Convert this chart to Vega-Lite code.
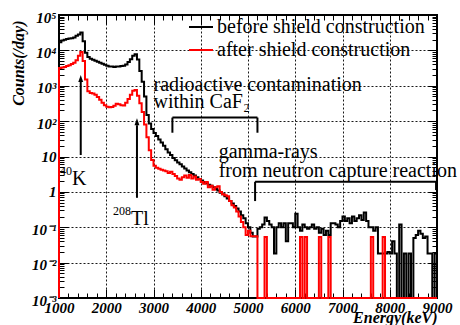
{
  "$schema": "https://vega.github.io/schema/vega-lite/v6.json",
  "width": 378,
  "height": 283,
  "autosize": {"type": "none"},
  "padding": {"left": 59, "top": 15, "right": 23, "bottom": 27},
  "background": "white",
  "config": {
    "view": {"stroke": "black", "strokeWidth": 2},
    "font": "Liberation Serif",
    "axis": {"domain": false, "tickColor": "black", "tickWidth": 1, "labelColor": "black", "titleColor": "black"}
  },
  "datasets": {
    "spectrum": [
      {"i": 0, "e": 1000, "before": 0.001, "after": 0.001},
      {"i": 1, "e": 1000, "before": 17000, "after": 3200},
      {"i": 2, "e": 1050, "before": 19000, "after": 3300},
      {"i": 3, "e": 1100, "before": 20000, "after": 3400},
      {"i": 4, "e": 1150, "before": 21000, "after": 3600},
      {"i": 5, "e": 1200, "before": 21500, "after": 3800},
      {"i": 6, "e": 1250, "before": 22000, "after": 4100},
      {"i": 7, "e": 1300, "before": 23000, "after": 4500},
      {"i": 8, "e": 1350, "before": 26000, "after": 5300},
      {"i": 9, "e": 1400, "before": 28000, "after": 7000},
      {"i": 10, "e": 1450, "before": 32000, "after": 9000},
      {"i": 11, "e": 1500, "before": 18000, "after": 5000},
      {"i": 12, "e": 1550, "before": 8500, "after": 1500},
      {"i": 13, "e": 1600, "before": 6500, "after": 700},
      {"i": 14, "e": 1650, "before": 5800, "after": 620},
      {"i": 15, "e": 1700, "before": 5400, "after": 600},
      {"i": 16, "e": 1750, "before": 5100, "after": 560},
      {"i": 17, "e": 1800, "before": 4800, "after": 480},
      {"i": 18, "e": 1850, "before": 4500, "after": 400},
      {"i": 19, "e": 1900, "before": 4200, "after": 330},
      {"i": 20, "e": 1950, "before": 3900, "after": 280},
      {"i": 21, "e": 2000, "before": 3700, "after": 255},
      {"i": 22, "e": 2050, "before": 3500, "after": 245},
      {"i": 23, "e": 2100, "before": 3500, "after": 250},
      {"i": 24, "e": 2150, "before": 3400, "after": 270},
      {"i": 25, "e": 2200, "before": 3500, "after": 310},
      {"i": 26, "e": 2250, "before": 3500, "after": 300},
      {"i": 27, "e": 2300, "before": 3600, "after": 280},
      {"i": 28, "e": 2350, "before": 3700, "after": 275},
      {"i": 29, "e": 2400, "before": 4000, "after": 330},
      {"i": 30, "e": 2450, "before": 4700, "after": 420},
      {"i": 31, "e": 2500, "before": 5600, "after": 560},
      {"i": 32, "e": 2550, "before": 7000, "after": 720},
      {"i": 33, "e": 2600, "before": 7800, "after": 760},
      {"i": 34, "e": 2650, "before": 5500, "after": 520},
      {"i": 35, "e": 2700, "before": 2600, "after": 320},
      {"i": 36, "e": 2750, "before": 1300, "after": 180},
      {"i": 37, "e": 2800, "before": 500, "after": 80},
      {"i": 38, "e": 2850, "before": 150, "after": 35},
      {"i": 39, "e": 2900, "before": 85, "after": 15},
      {"i": 40, "e": 2950, "before": 60, "after": 8},
      {"i": 41, "e": 3000, "before": 46, "after": 5.5},
      {"i": 42, "e": 3050, "before": 38, "after": 4.8},
      {"i": 43, "e": 3100, "before": 30, "after": 4.5},
      {"i": 44, "e": 3150, "before": 25, "after": 4.2},
      {"i": 45, "e": 3200, "before": 20, "after": 4.0},
      {"i": 46, "e": 3250, "before": 16, "after": 3.8},
      {"i": 47, "e": 3300, "before": 13, "after": 3.4},
      {"i": 48, "e": 3350, "before": 11, "after": 3.7},
      {"i": 49, "e": 3400, "before": 9, "after": 3.2},
      {"i": 50, "e": 3450, "before": 7.8, "after": 2.8},
      {"i": 51, "e": 3500, "before": 6.8, "after": 2.4},
      {"i": 52, "e": 3550, "before": 6.0, "after": 2.2},
      {"i": 53, "e": 3600, "before": 5.2, "after": 2.6},
      {"i": 54, "e": 3650, "before": 4.6, "after": 2.9},
      {"i": 55, "e": 3700, "before": 4.0, "after": 2.5},
      {"i": 56, "e": 3750, "before": 3.6, "after": 3.0},
      {"i": 57, "e": 3800, "before": 3.2, "after": 2.4},
      {"i": 58, "e": 3850, "before": 2.9, "after": 2.7},
      {"i": 59, "e": 3900, "before": 2.6, "after": 2.2},
      {"i": 60, "e": 3950, "before": 2.3, "after": 2.3},
      {"i": 61, "e": 4000, "before": 2.1, "after": 1.9},
      {"i": 62, "e": 4050, "before": 1.9, "after": 1.7},
      {"i": 63, "e": 4100, "before": 1.75, "after": 1.9},
      {"i": 64, "e": 4150, "before": 1.6, "after": 1.35},
      {"i": 65, "e": 4200, "before": 1.5, "after": 1.5},
      {"i": 66, "e": 4250, "before": 1.35, "after": 1.15},
      {"i": 67, "e": 4300, "before": 1.2, "after": 1.35},
      {"i": 68, "e": 4350, "before": 1.1, "after": 1.45},
      {"i": 69, "e": 4400, "before": 0.95, "after": 1.0},
      {"i": 70, "e": 4450, "before": 0.85, "after": 0.85},
      {"i": 71, "e": 4500, "before": 0.75, "after": 0.8},
      {"i": 72, "e": 4550, "before": 0.65, "after": 0.75},
      {"i": 73, "e": 4600, "before": 0.55, "after": 0.55},
      {"i": 74, "e": 4650, "before": 0.47, "after": 0.42},
      {"i": 75, "e": 4700, "before": 0.4, "after": 0.36},
      {"i": 76, "e": 4750, "before": 0.34, "after": 0.28},
      {"i": 77, "e": 4800, "before": 0.28, "after": 0.2},
      {"i": 78, "e": 4850, "before": 0.22, "after": 0.14},
      {"i": 79, "e": 4900, "before": 0.18, "after": 0.1},
      {"i": 80, "e": 4950, "before": 0.13, "after": 0.06},
      {"i": 81, "e": 5000, "before": 0.1, "after": 0.08},
      {"i": 82, "e": 5050, "before": 0.07, "after": 0.056},
      {"i": 83, "e": 5100, "before": 0.055, "after": 0.056},
      {"i": 84, "e": 5150, "before": 0.055, "after": 0.056},
      {"i": 85, "e": 5200, "before": 0.09, "after": 0.001},
      {"i": 86, "e": 5250, "before": 0.1, "after": 0.001},
      {"i": 87, "e": 5300, "before": 0.12, "after": 0.001},
      {"i": 88, "e": 5350, "before": 0.19, "after": 0.053},
      {"i": 89, "e": 5400, "before": 0.15, "after": 0.001},
      {"i": 90, "e": 5450, "before": 0.12, "after": 0.001},
      {"i": 91, "e": 5500, "before": 0.1, "after": 0.001},
      {"i": 92, "e": 5550, "before": 0.018, "after": 0.001},
      {"i": 93, "e": 5600, "before": 0.1, "after": 0.001},
      {"i": 94, "e": 5650, "before": 0.13, "after": 0.001},
      {"i": 95, "e": 5700, "before": 0.1, "after": 0.001},
      {"i": 96, "e": 5750, "before": 0.13, "after": 0.001},
      {"i": 97, "e": 5800, "before": 0.04, "after": 0.001},
      {"i": 98, "e": 5850, "before": 0.13, "after": 0.001},
      {"i": 99, "e": 5900, "before": 0.13, "after": 0.001},
      {"i": 100, "e": 5950, "before": 0.1, "after": 0.001},
      {"i": 101, "e": 6000, "before": 0.24, "after": 0.001},
      {"i": 102, "e": 6050, "before": 0.1, "after": 0.001},
      {"i": 103, "e": 6100, "before": 0.08, "after": 0.053},
      {"i": 104, "e": 6150, "before": 0.12, "after": 0.001},
      {"i": 105, "e": 6200, "before": 0.1, "after": 0.053},
      {"i": 106, "e": 6250, "before": 0.09, "after": 0.001},
      {"i": 107, "e": 6300, "before": 0.1, "after": 0.001},
      {"i": 108, "e": 6350, "before": 0.12, "after": 0.001},
      {"i": 109, "e": 6400, "before": 0.09, "after": 0.001},
      {"i": 110, "e": 6450, "before": 0.1, "after": 0.001},
      {"i": 111, "e": 6500, "before": 0.07, "after": 0.053},
      {"i": 112, "e": 6550, "before": 0.09, "after": 0.001},
      {"i": 113, "e": 6600, "before": 0.06, "after": 0.001},
      {"i": 114, "e": 6650, "before": 0.08, "after": 0.001},
      {"i": 115, "e": 6700, "before": 0.06, "after": 0.053},
      {"i": 116, "e": 6750, "before": 0.13, "after": 0.001},
      {"i": 117, "e": 6800, "before": 0.13, "after": 0.001},
      {"i": 118, "e": 6850, "before": 0.12, "after": 0.001},
      {"i": 119, "e": 6900, "before": 0.1, "after": 0.001},
      {"i": 120, "e": 6950, "before": 0.15, "after": 0.001},
      {"i": 121, "e": 7000, "before": 0.2, "after": 0.001},
      {"i": 122, "e": 7050, "before": 0.15, "after": 0.001},
      {"i": 123, "e": 7100, "before": 0.18, "after": 0.001},
      {"i": 124, "e": 7150, "before": 0.13, "after": 0.001},
      {"i": 125, "e": 7200, "before": 0.2, "after": 0.001},
      {"i": 126, "e": 7250, "before": 0.15, "after": 0.001},
      {"i": 127, "e": 7300, "before": 0.18, "after": 0.001},
      {"i": 128, "e": 7350, "before": 0.22, "after": 0.001},
      {"i": 129, "e": 7400, "before": 0.16, "after": 0.001},
      {"i": 130, "e": 7450, "before": 0.26, "after": 0.001},
      {"i": 131, "e": 7500, "before": 0.15, "after": 0.001},
      {"i": 132, "e": 7550, "before": 0.1, "after": 0.001},
      {"i": 133, "e": 7600, "before": 0.1, "after": 0.053},
      {"i": 134, "e": 7650, "before": 0.08, "after": 0.001},
      {"i": 135, "e": 7700, "before": 0.1, "after": 0.001},
      {"i": 136, "e": 7750, "before": 0.018, "after": 0.001},
      {"i": 137, "e": 7800, "before": 0.018, "after": 0.001},
      {"i": 138, "e": 7850, "before": 0.018, "after": 0.053},
      {"i": 139, "e": 7900, "before": 0.018, "after": 0.001},
      {"i": 140, "e": 7950, "before": 0.02, "after": 0.001},
      {"i": 141, "e": 8000, "before": 0.018, "after": 0.001},
      {"i": 142, "e": 8050, "before": 0.04, "after": 0.001},
      {"i": 143, "e": 8100, "before": 0.018, "after": 0.001},
      {"i": 144, "e": 8150, "before": 0.001, "after": 0.001},
      {"i": 145, "e": 8200, "before": 0.12, "after": 0.001},
      {"i": 146, "e": 8250, "before": 0.001, "after": 0.001},
      {"i": 147, "e": 8300, "before": 0.018, "after": 0.001},
      {"i": 148, "e": 8350, "before": 0.001, "after": 0.001},
      {"i": 149, "e": 8400, "before": 0.018, "after": 0.001},
      {"i": 150, "e": 8450, "before": 0.001, "after": 0.001},
      {"i": 151, "e": 8500, "before": 0.05, "after": 0.001},
      {"i": 152, "e": 8550, "before": 0.06, "after": 0.001},
      {"i": 153, "e": 8600, "before": 0.08, "after": 0.001},
      {"i": 154, "e": 8650, "before": 0.065, "after": 0.001},
      {"i": 155, "e": 8700, "before": 0.05, "after": 0.001},
      {"i": 156, "e": 8750, "before": 0.055, "after": 0.001},
      {"i": 157, "e": 8800, "before": 0.018, "after": 0.001},
      {"i": 158, "e": 8850, "before": 0.018, "after": 0.001},
      {"i": 159, "e": 8900, "before": 0.001, "after": 0.001},
      {"i": 160, "e": 8950, "before": 0.018, "after": 0.001},
      {"i": 161, "e": 9000, "before": 0.018, "after": 0.001},
      {"i": 162, "e": 9000, "before": 0.001, "after": 0.001}
    ],
    "labels": [
      {"x": 3000, "y": 731, "t": "radioactive contamination"},
      {"x": 3000, "y": 232, "t": "within CaF₂"},
      {"x": 4380, "y": 8.9, "t": "gamma-rays"},
      {"x": 4380, "y": 2.68, "t": "from neutron capture reaction"},
      {"x": 1275, "y": 1.56, "t": "K"},
      {"x": 2524, "y": 0.115, "t": "Tl"}
    ],
    "massNumbers": [
      {"x": 1275, "y": 3.0, "t": "40"},
      {"x": 2524, "y": 0.22, "t": "208"}
    ],
    "strokes": [
      {"x": 3400, "x2": 5200, "y": 126, "y2": 126},
      {"x": 3400, "x2": 3400, "y": 47, "y2": 126},
      {"x": 5200, "x2": 5200, "y": 47, "y2": 126},
      {"x": 5150, "x2": 8980, "y": 1.93, "y2": 1.93},
      {"x": 5150, "x2": 5150, "y": 0.55, "y2": 1.93},
      {"x": 8980, "x2": 8980, "y": 1.12, "y2": 1.93},
      {"x": 1460, "x2": 1460, "y": 11, "y2": 1290},
      {"x": 2650, "x2": 2650, "y": 0.68, "y2": 76.5}
    ],
    "arrowTips": [
      {"x": 1460, "y": 2000},
      {"x": 2650, "y": 121}
    ]
  },
  "resolve": {"axis": {"x": "independent", "y": "independent"}},
  "layer": [
    {
      "data": {"name": "labels"},
      "mark": {"type": "text", "align": "left", "baseline": "alphabetic", "font": "Liberation Serif", "fontSize": 20, "color": "black"},
      "encoding": {
        "x": {"field": "x", "type": "quantitative", "scale": {"domain": [1000, 9000], "nice": false, "zero": false},
          "axis": {"orient": "top", "values": [1000, 2000, 3000, 4000, 5000, 6000, 7000, 8000, 9000], "labels": false, "grid": false, "tickSize": -9, "title": null}},
        "y": {"field": "y", "type": "quantitative", "scale": {"type": "log", "domain": [0.001, 100000], "nice": false},
          "axis": {"orient": "right", "values": [0.001, 0.01, 0.1, 1, 10, 100, 1000, 10000, 100000], "labels": false, "grid": false, "tickSize": -9, "title": null}},
        "text": {"field": "t"}
      }
    },
    {
      "data": {"name": "massNumbers"},
      "mark": {"type": "text", "align": "right", "baseline": "alphabetic", "font": "Liberation Serif", "fontSize": 12, "color": "black"},
      "encoding": {
        "x": {"field": "x", "type": "quantitative", "scale": {"domain": [1000, 9000], "nice": false, "zero": false}, "axis": null},
        "y": {"field": "y", "type": "quantitative", "scale": {"type": "log", "domain": [0.001, 100000], "nice": false}, "axis": null},
        "text": {"field": "t"}
      }
    },
    {
      "data": {"name": "spectrum"},
      "mark": {"type": "line", "interpolate": "step-after", "strokeWidth": 2},
      "encoding": {
        "x": {"field": "e", "type": "quantitative", "scale": {"domain": [1000, 9000], "nice": false, "zero": false},
          "axis": {"orient": "bottom", "values": [1000, 2000, 3000, 4000, 5000, 6000, 7000, 8000, 9000], "format": "d",
            "grid": true, "gridDash": [2, 2], "gridColor": "black", "gridWidth": 1, "gridOpacity": 0.9,
            "tickSize": -9, "labelPadding": 11, "labelFlush": false, "labelOverlap": false,
            "labelFont": "Liberation Serif", "labelFontStyle": "italic", "labelFontWeight": "bold", "labelFontSize": 15,
            "title": "Energy(keV)", "titleFont": "Liberation Serif", "titleFontStyle": "italic", "titleFontWeight": "bold", "titleFontSize": 16,
            "titleAlign": "right", "titleBaseline": "alphabetic", "titleX": 378, "titleY": 24}},
        "y": {"field": "before", "type": "quantitative", "scale": {"type": "log", "domain": [0.001, 100000], "nice": false},
          "axis": {"orient": "left", "values": [0.001, 0.01, 0.1, 1, 10, 100, 1000, 10000, 100000],
            "grid": true, "gridDash": [2, 2], "gridColor": "black", "gridWidth": 1, "gridOpacity": 0.9,
            "tickSize": -9, "labelPadding": 12, "labelOverlap": false,
            "labelExpr": "datum.value == 1 ? '1' : datum.value == 10 ? '10' : '10' + ['⁻³','⁻²','⁻¹','','','²','³','⁴','⁵'][round(log(datum.value) / LN10) + 3]",
            "labelOffset": {"condition": {"test": "datum.value < 1 || datum.value > 10", "value": 2}, "value": 0},
            "labelFont": "Liberation Serif", "labelFontStyle": "italic", "labelFontWeight": "bold", "labelFontSize": 15,
            "title": "Counts(/day)", "titleFont": "Liberation Serif", "titleFontStyle": "italic", "titleFontWeight": "bold", "titleFontSize": 16,
            "titleAngle": 270, "titleAlign": "right", "titleBaseline": "alphabetic", "titleX": -36, "titleY": 5}},
        "order": {"field": "i", "type": "quantitative"},
        "color": {"datum": "before", "type": "nominal",
          "scale": {"domain": ["before", "after"], "range": ["black", "red"]},
          "legend": {"orient": "none", "legendX": 129, "legendY": -1, "direction": "vertical", "title": null,
            "symbolType": "stroke", "symbolSize": 576, "symbolStrokeWidth": 2, "padding": 0, "rowPadding": -5,
            "labelFont": "Liberation Serif", "labelFontSize": 20, "labelColor": "black", "labelLimit": 400, "labelOffset": 3,
            "labelExpr": "datum.label + ' shield construction'"}}
      }
    },
    {
      "data": {"name": "spectrum"},
      "mark": {"type": "line", "interpolate": "step-after", "strokeWidth": 2},
      "encoding": {
        "x": {"field": "e", "type": "quantitative", "scale": {"domain": [1000, 9000], "nice": false, "zero": false},
          "axis": {"orient": "bottom", "values": [1200, 1400, 1600, 1800, 2200, 2400, 2600, 2800, 3200, 3400, 3600, 3800, 4200, 4400, 4600, 4800, 5200, 5400, 5600, 5800, 6200, 6400, 6600, 6800, 7200, 7400, 7600, 7800, 8200, 8400, 8600, 8800],
            "labels": false, "grid": false, "tickSize": -5, "title": null}},
        "y": {"field": "after", "type": "quantitative", "scale": {"type": "log", "domain": [0.001, 100000], "nice": false},
          "axis": {"orient": "left", "values": [0.002, 0.003, 0.004, 0.005, 0.006, 0.007, 0.008, 0.009, 0.02, 0.03, 0.04, 0.05, 0.06, 0.07, 0.08, 0.09, 0.2, 0.3, 0.4, 0.5, 0.6, 0.7, 0.8, 0.9, 2, 3, 4, 5, 6, 7, 8, 9, 20, 30, 40, 50, 60, 70, 80, 90, 200, 300, 400, 500, 600, 700, 800, 900, 2000, 3000, 4000, 5000, 6000, 7000, 8000, 9000, 20000, 30000, 40000, 50000, 60000, 70000, 80000, 90000],
            "labels": false, "grid": false, "tickSize": -5, "title": null}},
        "order": {"field": "i", "type": "quantitative"},
        "color": {"datum": "after", "type": "nominal", "scale": {"domain": ["before", "after"], "range": ["black", "red"]}}
      }
    },
    {
      "data": {"name": "strokes"},
      "mark": {"type": "rule", "color": "black", "strokeWidth": 2},
      "encoding": {
        "x": {"field": "x", "type": "quantitative", "scale": {"domain": [1000, 9000], "nice": false, "zero": false},
          "axis": {"orient": "top", "values": [1200, 1400, 1600, 1800, 2200, 2400, 2600, 2800, 3200, 3400, 3600, 3800, 4200, 4400, 4600, 4800, 5200, 5400, 5600, 5800, 6200, 6400, 6600, 6800, 7200, 7400, 7600, 7800, 8200, 8400, 8600, 8800],
            "labels": false, "grid": false, "tickSize": -5, "title": null}},
        "x2": {"field": "x2"},
        "y": {"field": "y", "type": "quantitative", "scale": {"type": "log", "domain": [0.001, 100000], "nice": false},
          "axis": {"orient": "right", "values": [0.002, 0.003, 0.004, 0.005, 0.006, 0.007, 0.008, 0.009, 0.02, 0.03, 0.04, 0.05, 0.06, 0.07, 0.08, 0.09, 0.2, 0.3, 0.4, 0.5, 0.6, 0.7, 0.8, 0.9, 2, 3, 4, 5, 6, 7, 8, 9, 20, 30, 40, 50, 60, 70, 80, 90, 200, 300, 400, 500, 600, 700, 800, 900, 2000, 3000, 4000, 5000, 6000, 7000, 8000, 9000, 20000, 30000, 40000, 50000, 60000, 70000, 80000, 90000],
            "labels": false, "grid": false, "tickSize": -5, "title": null}},
        "y2": {"field": "y2"}
      }
    },
    {
      "data": {"name": "arrowTips"},
      "mark": {"type": "point", "shape": "M0,0L0.7,2L-0.7,2Z", "size": 49, "filled": true, "color": "black", "opacity": 1},
      "encoding": {
        "x": {"field": "x", "type": "quantitative", "scale": {"domain": [1000, 9000], "nice": false, "zero": false}, "axis": null},
        "y": {"field": "y", "type": "quantitative", "scale": {"type": "log", "domain": [0.001, 100000], "nice": false}, "axis": null}
      }
    }
  ]
}
